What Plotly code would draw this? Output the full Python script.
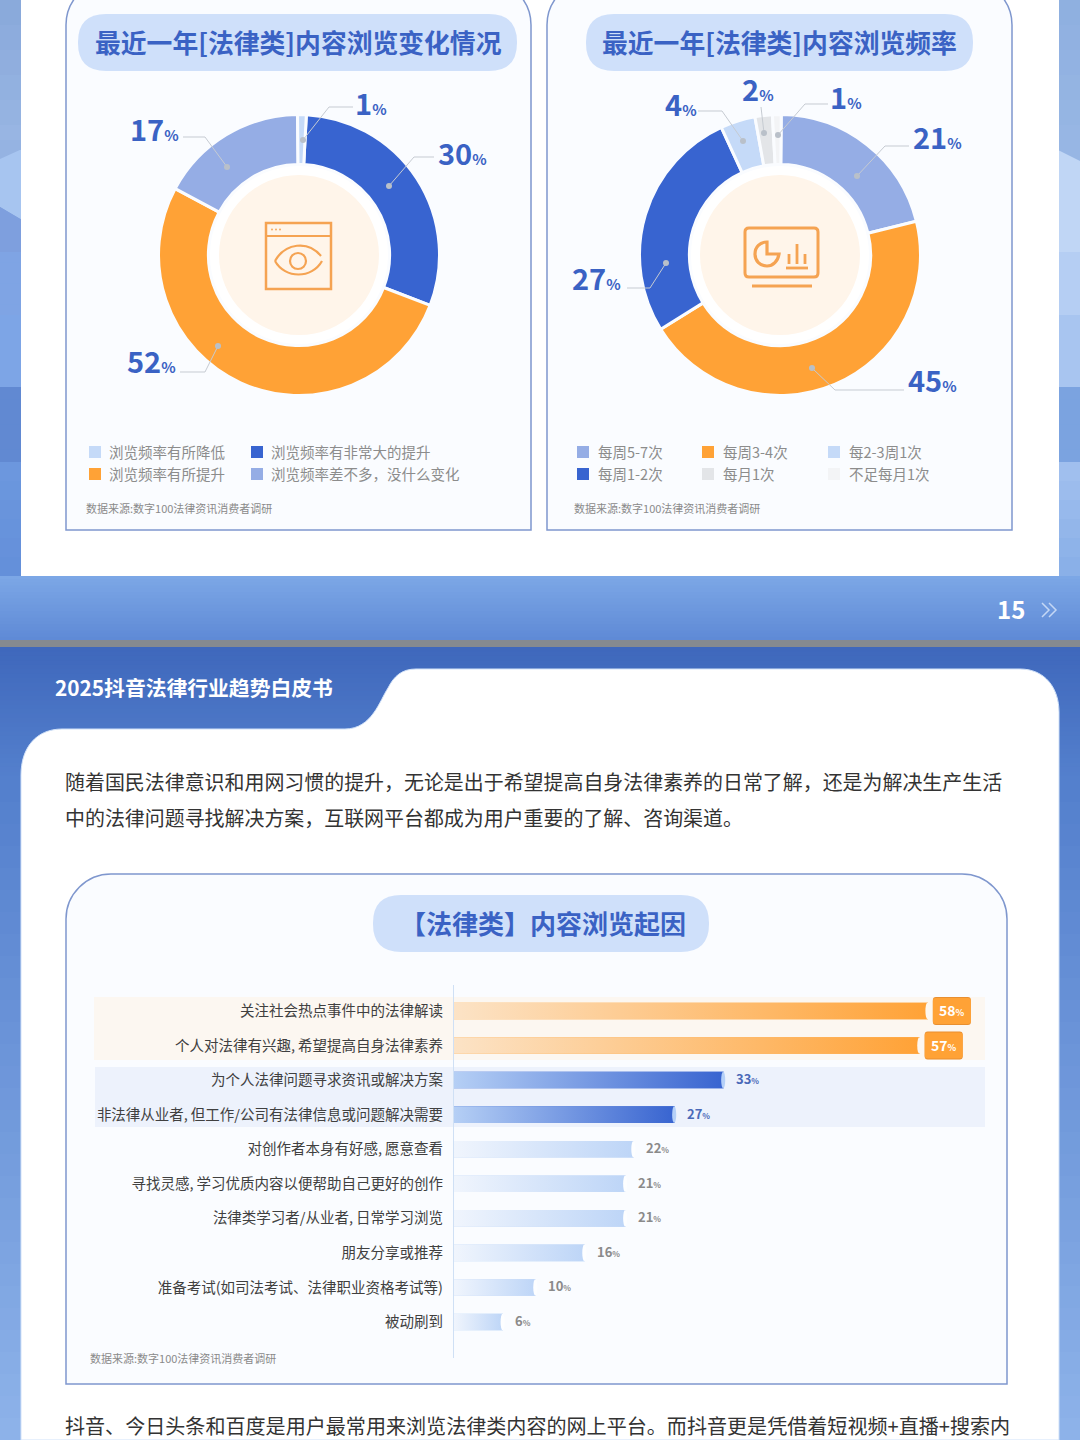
import plotly.graph_objects as go

W = 1080
H = 1440
FONT = 'Noto Sans CJK SC'

change_labels = ['浏览频率有非常大的提升', '浏览频率有所提升', '浏览频率差不多，没什么变化', '浏览频率有所降低']
change_values = [30, 52, 17, 1]
change_legend = ['浏览频率有所降低', '浏览频率有所提升', '浏览频率有非常大的提升', '浏览频率差不多，没什么变化']

freq_labels = ['每周5-7次', '每周3-4次', '每周1-2次', '每2-3周1次', '每月1次', '不足每月1次']
freq_values = [21, 45, 27, 4, 2, 1]
freq_legend = ['每周5-7次', '每周1-2次', '每周3-4次', '每月1次', '每2-3周1次', '不足每月1次']

reason_labels = ['关注社会热点事件中的法律解读', '个人对法律有兴趣,\u2009希望提高自身法律素养', '为个人法律问题寻求资讯或解决方案',
                 '非法律从业者,\u2009但工作/公司有法律信息或问题解决需要', '对创作者本身有好感,\u2009愿意查看',
                 '寻找灵感,\u2009学习优质内容以便帮助自己更好的创作', '法律类学习者/从业者,\u2009日常学习浏览', '朋友分享或推荐',
                 '准备考试(如司法考试、法律职业资格考试等)', '被动刷到']
reason_values = [58, 57, 33, 27, 22, 21, 21, 16, 10, 6]

DARK = '#3864D0'
ORANGE = '#FFA236'
MID = '#95ADE5'
LIGHT = '#C5DAF8'
GREY = '#E3E5E8'
PALE = '#F3F4F6'
change_colors = [DARK, ORANGE, MID, LIGHT]
freq_colors = [MID, ORANGE, DARK, LIGHT, GREY, PALE]

CARD = '#FAFCFF'
PILL = '#CFE0FA'
BORDER = '#7F97CE'
TITLE = '#3A62C4'
ICON = '#F5A352'
LEADER = '#C6CBD2'

shapes = []
notes = []


def fx(x):
    return x / W


def fy(y):
    return 1 - y / H


def path(*cmds):
    out = []
    for c in cmds:
        nums = c[1:]
        pts = [f'{fx(nums[i]):.5f},{fy(nums[i + 1]):.5f}' for i in range(0, len(nums), 2)]
        out.append(c[0] + ' ' + ' '.join(pts))
    return ' '.join(out)


def add_path(d, fill=None, line=None, width=0, layer='below'):
    shapes.append(dict(type='path', xref='paper', yref='paper', path=d, layer=layer,
                       fillcolor=fill or 'rgba(0,0,0,0)',
                       line=dict(color=line or 'rgba(0,0,0,0)', width=width)))


def rect(x0, y0, x1, y1, fill, layer='below'):
    shapes.append(dict(type='rect', xref='paper', yref='paper', x0=fx(x0), x1=fx(x1), y0=fy(y0), y1=fy(y1),
                       fillcolor=fill, line=dict(width=0), layer=layer))


def circle(cx, cy, r, fill=None, line=None, width=0, layer='above'):
    shapes.append(dict(type='circle', xref='paper', yref='paper', x0=fx(cx - r), x1=fx(cx + r),
                       y0=fy(cy + r), y1=fy(cy - r), fillcolor=fill or 'rgba(0,0,0,0)',
                       line=dict(color=line or 'rgba(0,0,0,0)', width=width), layer=layer))


def mix(c0, c1, t):
    a = [int(c0[i:i + 2], 16) for i in (1, 3, 5)]
    b = [int(c1[i:i + 2], 16) for i in (1, 3, 5)]
    return 'rgb(%d,%d,%d)' % tuple(round(a[i] + (b[i] - a[i]) * t) for i in range(3))


def band(x0, x1, y0, y1, c0, c1, steps=12):
    # no gradient on shapes, so thin strips
    for i in range(steps):
        top = y0 + (y1 - y0) * i / steps
        bottom = y0 + (y1 - y0) * (i + 1) / steps + 1
        rect(x0, top, x1, min(bottom, y1), mix(c0, c1, i / max(steps - 1, 1)))


def text(x, y, s, size, color, anchor='left', bold=False):
    notes.append(dict(xref='paper', yref='paper', x=fx(x), y=fy(y), text=f'<b>{s}</b>' if bold else s,
                      showarrow=False, xanchor=anchor, yanchor='middle', yshift=2 if bold else 0.5,
                      xshift=-2 if anchor == 'left' else 0,
                      font=dict(family=FONT, size=size, color=color)))


def rounded(x0, y0, x1, y1, r):
    return path(('M', x0 + r, y0), ('L', x1 - r, y0), ('Q', x1, y0, x1, y0 + r), ('L', x1, y1 - r),
                ('Q', x1, y1, x1 - r, y1), ('L', x0 + r, y1), ('Q', x0, y1, x0, y1 - r),
                ('L', x0, y0 + r), ('Q', x0, y0, x0 + r, y0), ('Z',))


def card(x0, y0, x1, y1, r):
    d = path(('M', x0, y1), ('L', x0, y0 + r), ('C', x0, y0 + r * 0.45, x0 + r * 0.45, y0, x0 + r, y0),
             ('L', x1 - r, y0), ('C', x1 - r * 0.45, y0, x1, y0 + r * 0.45, x1, y0 + r),
             ('L', x1, y1), ('Z',))
    add_path(d, fill=CARD, line=BORDER, width=1.5)


# page backgrounds
side_left = [(0, 150, '#8AAADB', '#98B5E3'), (150, 207, '#A7C5F0', '#A7C5F0'), (207, 252, '#7E9FDE', '#7E9FDE'),
             (252, 315, '#7FA4E4', '#7FA4E4'), (315, 387, '#7DA5E6', '#7DA5E6'), (387, 462, '#6189D2', '#6189D2'),
             (462, 576, '#6C97DE', '#6490DA')]
side_right = [(0, 150, '#8FB0E0', '#97B6E4'), (150, 252, '#C0D6F5', '#C0D6F5'), (252, 315, '#B5CEF3', '#B5CEF3'),
              (315, 387, '#A8C5F0', '#A8C5F0'), (387, 462, '#7BA3E0', '#7BA3E0'), (462, 576, '#A0BFEE', '#8AB0E8')]
for y0, y1, c0, c1 in side_left:
    band(0, 22, y0, y1, c0, c1, 6)
for y0, y1, c0, c1 in side_right:
    band(1058, W, y0, y1, c0, c1, 6)
add_path(path(('M', 0, 140), ('L', 0, 159), ('L', 22, 149), ('L', 22, 140), ('Z',)), fill='#95B3E2')
add_path(path(('M', 0, 200), ('L', 0, 207), ('L', 22, 220), ('L', 22, 200), ('Z',)), fill='#A7C5F0')
add_path(path(('M', 0, 207), ('L', 22, 220), ('L', 22, 252), ('L', 0, 252), ('Z',)), fill='#7E9FDE')
add_path(path(('M', 1058, 140), ('L', 1058, 150), ('L', W, 161), ('L', W, 140), ('Z',)), fill='#97B6E4')
band(0, W, 576, 640, '#7CA7E6', '#5F8AD6', 20)
rect(0, 640, W, 647, '#858A90')
band(0, W, 647, 780, '#3F68BC', '#5480CD', 30)
band(0, 24, 780, 1440, '#5480CD', '#8DB2E9', 30)
band(1056, W, 780, 1440, '#5480CD', '#8DB2E9', 30)

# white pages
rect(21, 0, 1059, 576, '#FFFFFF')
add_path(path(('M', 21, 1440), ('L', 21, 775), ('C', 21, 748, 36, 729, 62, 729), ('L', 345, 729),
              ('C', 372, 729, 380, 700, 388, 688), ('C', 394, 676, 402, 669, 416, 669),
              ('L', 1020, 669), ('C', 1045, 669, 1059, 688, 1059, 712), ('L', 1059, 1440), ('Z',)),
         fill='#FFFFFF', line='#CFE0F8', width=1)

# cards and title pills
card(66, -20, 531, 530, 45)
card(547, -20, 1012, 530, 45)
card(66, 874, 1007, 1384, 45)
add_path(rounded(78, 14, 517, 71, 28), fill=PILL)
add_path(rounded(586, 14, 973, 71, 28), fill=PILL)
add_path(rounded(373, 895, 709, 952, 28), fill=PILL)
text(298, 43, '最近一年[法律类]内容浏览变化情况', 25.8, TITLE, 'center', True)
text(779, 43, '最近一年[法律类]内容浏览频率', 25.8, TITLE, 'center', True)
text(543, 924, '【法律类】内容浏览起因', 26, TITLE, 'center', True)

# highlight bands behind the bars
rect(94, 997, 985, 1060, '#FCF7F1')
rect(95, 1067, 985, 1127, '#EDF2FC')

# page furniture
text(1011, 610, '15', 24, '#FFFFFF', 'center', True)
for off in (0, 7):
    add_path(path(('M', 1042 + off, 603), ('L', 1049 + off, 610), ('L', 1042 + off, 617)), line='#C4D7F5', width=1.5,
             layer='above')
text(55, 689, '2025抖音法律行业趋势白皮书', 20.8, '#FFFFFF', 'left', True)
text(65, 782, '随着国民法律意识和用网习惯的提升，无论是出于希望提高自身法律素养的日常了解，还是为解决生产生活', 19.95, '#333333')
text(65, 818, '中的法律问题寻找解决方案，互联网平台都成为用户重要的了解、咨询渠道。', 19.95, '#333333')
text(65, 1426, '抖音、今日头条和百度是用户最常用来浏览法律类内容的网上平台。而抖音更是凭借着短视频+直播+搜索内', 20.07, '#333333')
for sx, sy in [(86, 508), (574, 508), (90, 1358)]:
    text(sx, sy, '数据来源:数字100法律资讯消费者调研', 11, '#8A8A8A')

# donuts
CX1, CX2, CY, R = 299, 780, 255, 140.5
fig = go.Figure()
fig.add_trace(go.Pie(labels=change_labels, values=change_values, sort=False, direction='clockwise', rotation=3,
                     hole=0.645, textinfo='none', hoverinfo='label+value', showlegend=False,
                     marker=dict(colors=change_colors, line=dict(color=CARD, width=3)),
                     domain=dict(x=[fx(CX1 - R), fx(CX1 + R)], y=[fy(CY + R), fy(CY - R)])))
fig.add_trace(go.Pie(labels=freq_labels, values=freq_values, sort=False, direction='clockwise', rotation=0.5,
                     hole=0.645, textinfo='none', hoverinfo='label+value', showlegend=False,
                     marker=dict(colors=freq_colors, line=dict(color=CARD, width=3)),
                     domain=dict(x=[fx(CX2 - R), fx(CX2 + R)], y=[fy(CY + R), fy(CY - R)])))
for cx in (CX1, CX2):
    circle(cx, CY, 89, fill='#FFFFFF')
    circle(cx, CY, 80, fill='#FFF5EA')

# leader line, dot and label for each slice: dot, elbow, end of line, label centre
leaders = [
    (change_values[3], [(303, 140), (329, 107), (353, 107)], (371, 104)),
    (change_values[0], [(389, 186), (414, 157), (434, 157)], (462, 154)),
    (change_values[2], [(227, 167), (205, 137), (183, 137)], (154, 130)),
    (change_values[1], [(218, 346), (205, 372), (180, 372)], (151, 362)),
    (freq_values[5], [(778, 135), (805, 104), (828, 104)], (846, 98)),
    (freq_values[4], [(764, 133), (761, 107)], (758, 90)),
    (freq_values[3], [(743, 141), (722, 111), (698, 111)], (681, 105)),
    (freq_values[0], [(857, 176), (885, 146), (909, 146)], (937, 138)),
    (freq_values[2], [(666, 263), (650, 288), (627, 288)], (596, 279)),
    (freq_values[1], [(812, 368), (835, 390), (904, 390)], (932, 381)),
]
for val, pts, (lx, ly) in leaders:
    cmds = [('M', *pts[0])] + [('L', *p) for p in pts[1:]]
    add_path(path(*cmds), line=LEADER, width=1, layer='above')
    circle(pts[0][0], pts[0][1], 3, fill='#B9C0C9')
    text(lx, ly, f'{val}<span style="font-size:15px">%</span>', 29, TITLE, 'center', True)

# icon: browser window with eye
add_path(path(('M', 266, 223), ('L', 331, 223), ('L', 331, 289), ('L', 266, 289), ('Z',)), line=ICON, width=2.5,
         layer='above')
add_path(path(('M', 266, 236), ('L', 331, 236)), line=ICON, width=2, layer='above')
for dx in (272, 276, 280):
    circle(dx, 229.5, 0.9, fill=ICON)
add_path(path(('M', 275, 261), ('C', 285, 243, 308, 240, 321, 256)), line=ICON, width=2.2, layer='above')
add_path(path(('M', 275, 261), ('C', 285, 279, 312, 279, 322, 261)), line=ICON, width=2.2, layer='above')
circle(298, 261, 8, line=ICON, width=2.2)

# icon: monitor with charts
add_path(rounded(745, 228, 818, 277, 4), line=ICON, width=3, layer='above')
add_path(path(('M', 752, 286), ('L', 812, 286)), line=ICON, width=3, layer='above')
add_path(path(('M', 767, 242), ('C', 760, 242, 755, 247, 755, 254), ('C', 755, 261, 760, 266, 767, 266),
              ('C', 773, 266, 778, 261, 779, 254), ('L', 767, 254), ('Z',)), line=ICON, width=3.2, layer='above')
for bx, by in [(789, 254), (797, 244), (805, 254)]:
    add_path(path(('M', bx, by), ('L', bx, 264)), line=ICON, width=2.8, layer='above')
add_path(path(('M', 786, 268), ('L', 808, 268)), line=ICON, width=2.8, layer='above')

# legends
legend_colors = dict(zip(change_labels + freq_labels, change_colors + freq_colors))
for i, name in enumerate(change_legend):
    lx = [89, 251][i // 2]
    ly = [452, 474][i % 2]
    rect(lx, ly - 6, lx + 12, ly + 6, legend_colors[name])
    text(lx + 20, ly, name, 14.5, '#8C8C8C')
for i, name in enumerate(freq_legend):
    lx = [577, 702, 828][i // 2]
    ly = [452, 474][i % 2]
    rect(lx, ly - 6, lx + 12, ly + 6, legend_colors[name])
    text(lx + 21, ly, name, 14.5, '#8C8C8C')

# bars
rows = list(range(len(reason_values)))
BAR_W = 0.48


def bar_colors(i):
    if i < 2:
        return '#FCE3C6', ORANGE, '#FDF7F0'
    if i < 4:
        return '#B5CFF5', DARK, '#B5D0F8'
    return '#F0F5FD', '#BDD5F7', '#FDFEFF'


def badge_path(x0, x1, h, r):
    return (f'M {x0 + r},{-h} L {x1 - r},{-h} Q {x1},{-h} {x1},{-h + r} L {x1},{h - r} Q {x1},{h} {x1 - r},{h} '
            f'L {x0 + r},{h} Q {x0},{h} {x0},{h - r} L {x0},{-h + r} Q {x0},{-h} {x0 + r},{-h} Z')


fig.add_trace(go.Bar(y=rows, x=reason_values, orientation='h', width=BAR_W, xaxis='x2', yaxis='y2', showlegend=False,
                     marker=dict(color=[bar_colors(i)[1] for i in rows], line=dict(width=0)),
                     customdata=reason_labels, hovertemplate='%{customdata}: %{x}%<extra></extra>'))
for i, v in zip(rows, reason_values):
    c0, c1, cap = bar_colors(i)
    fig.add_trace(go.Scatter(x=[0, v, v, 0, 0], y=[i - BAR_W / 2, i - BAR_W / 2, i + BAR_W / 2, i + BAR_W / 2, i - BAR_W / 2],
                             mode='lines', line=dict(width=0), fill='toself', hoverinfo='skip', showlegend=False,
                             fillgradient=dict(type='horizontal', colorscale=[[0, c0], [1, c1]]),
                             xaxis='x2', yaxis='y2'))
    shapes.append(dict(type='circle', xref='x2', yref='y2', x0=v - 0.3, x1=v + 0.2, y0=i - BAR_W / 2, y1=i + BAR_W / 2,
                       fillcolor=cap, line=dict(width=0), layer='above'))
    if i < 2:
        # badge sits at the bar end, sized in pixels
        for col, h in (('#E88F30', 14), (ORANGE, 13)):
            shapes.append(dict(type='path', xref='x2', yref='y2', xsizemode='pixel', ysizemode='pixel', xanchor=v, yanchor=i,
                               path=badge_path(5, 43, h, 3), fillcolor=col, line=dict(width=0), layer='above'))
        notes.append(dict(xref='x2', yref='y2', x=v, y=i, xanchor='center', xshift=24, yshift=1, showarrow=False,
                          text=f'<b>{v}<span style="font-size:9px">%</span></b>',
                          font=dict(family=FONT, size=14, color='#FFFFFF')))
    else:
        col = '#4A69B8' if i < 4 else '#8A8A8A'
        notes.append(dict(xref='x2', yref='y2', x=v, y=i, xanchor='left', xshift=10, yshift=1.5, showarrow=False,
                          text=f'<b>{v}<span style="font-size:8px">%</span></b>',
                          font=dict(family=FONT, size=13, color=col)))

fig.update_layout(
    width=W, height=H, margin=dict(l=0, r=0, t=0, b=0), paper_bgcolor='#FFFFFF', plot_bgcolor='rgba(0,0,0,0)',
    font=dict(family=FONT), shapes=shapes, annotations=notes, showlegend=False,
    xaxis2=dict(domain=[fx(454), fx(1000)], range=[0, (1000 - 454) / 8.17], visible=False, anchor='y2'),
    yaxis2=dict(domain=[fy(1358), fy(985)], range=[10.04, -0.75], anchor='x2', tickmode='array', tickvals=rows,
                ticktext=reason_labels, ticks='', showgrid=False, zeroline=False, showline=True, linecolor='#CFE0F5',
                linewidth=1.2, ticklabelstandoff=7, tickfont=dict(family=FONT, size=14.5, color='#404040')),
)

fig.write_html('out.html', config=dict(displayModeBar=False), post_script="document.body.style.margin='0';")
